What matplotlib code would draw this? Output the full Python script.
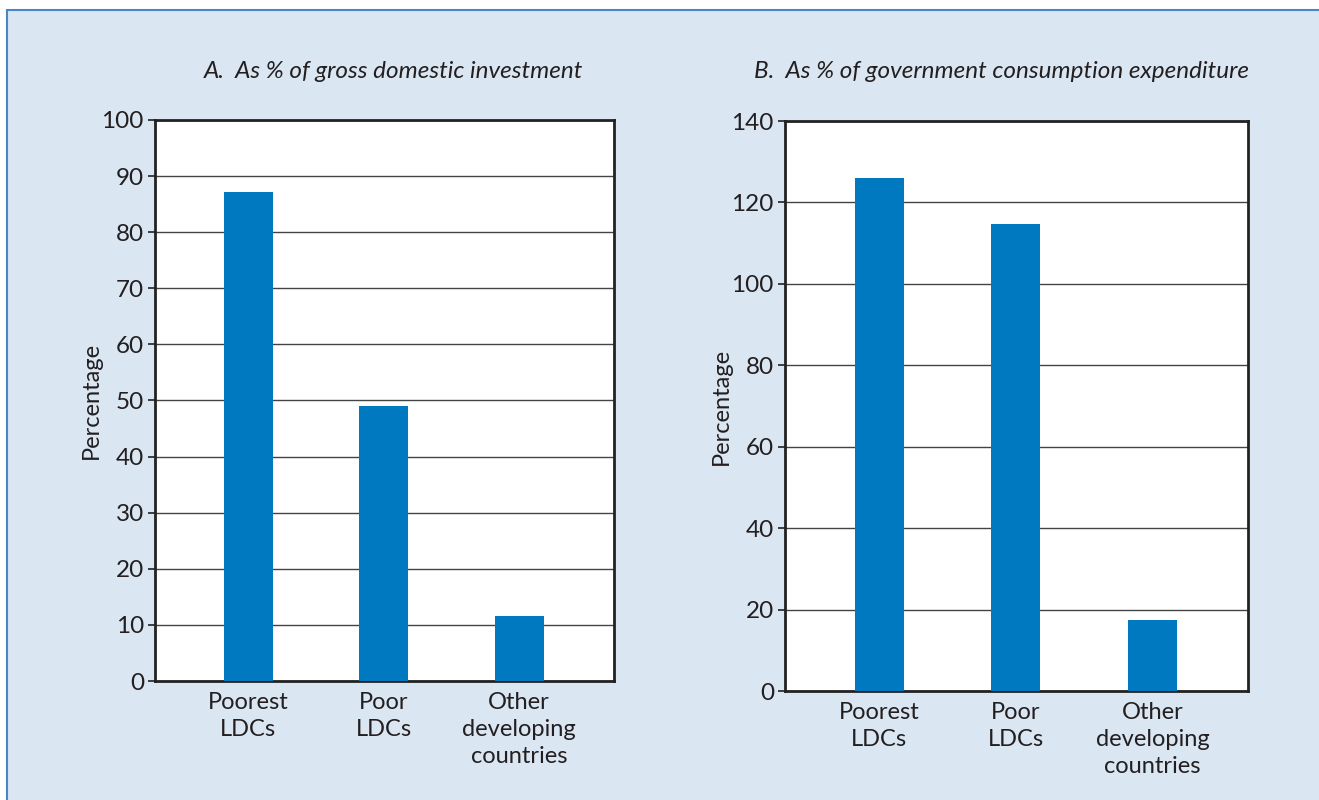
import matplotlib
matplotlib.use("Agg")
import matplotlib.pyplot as plt
from matplotlib.patches import Rectangle

categories = ["Poorest\nLDCs", "Poor\nLDCs", "Other\ndeveloping\ncountries"]
values_a = [87.2, 49.0, 11.6]
values_b = [126.0, 114.7, 17.4]
title_a = "A.  As % of gross domestic investment"
title_b = "B.  As % of government consumption expenditure"
yticks_a = [0, 10, 20, 30, 40, 50, 60, 70, 80, 90, 100]
yticks_b = [0, 20, 40, 60, 80, 100, 120, 140]

plt.rcParams['font.family'] = ['Lato', 'DejaVu Sans']
TXT = '#231f20'
BAR = '#0079c1'
BG = '#dae6f2'

fig = plt.figure(figsize=(13.19, 8.0), dpi=100)
fig.patch.set_facecolor('white')
bgrect = Rectangle((7/1319, -0.05), 1.1, 1.05 - 10/800,
                   transform=fig.transFigure, facecolor=BG,
                   edgecolor='#4a86c5', linewidth=1.5, zorder=-10)
fig.add_artist(bgrect)

def panel(rect, vals, yt, title, tx, label_pad):
    ax = fig.add_axes(rect)
    ax.set_facecolor('white')
    x = list(range(len(vals)))
    ax.bar(x, vals, width=0.36, color=BAR, zorder=3)
    ax.set_xlim(-0.69, 2.70)
    ax.set_ylim(yt[0], yt[-1])
    ax.set_yticks(yt)
    ax.set_xticks(x)
    ax.set_xticklabels(categories, fontsize=17, color=TXT, linespacing=1.35)
    ax.tick_params(axis='x', length=0, pad=8)
    ax.tick_params(axis='y', length=5, width=1.2, color=TXT, labelsize=17.5, labelcolor=TXT, pad=3)
    ax.yaxis.grid(True, color='#444444', linewidth=1.0, zorder=1)
    ax.set_axisbelow(True)
    for s in ax.spines.values():
        s.set_linewidth(2.0)
        s.set_color('#222222')
    ax.set_ylabel('Percentage', fontsize=17, color=TXT, labelpad=label_pad)
    fig.text(tx, 1 - 72/800, title, ha='center', va='center', fontsize=17.5,
             style='italic', color=TXT)
    return ax

panel([155/1319, 119/800, 459/1319, 561/800], values_a, yticks_a, title_a, 393/1319, 0)
panel([785/1319, 109/800, 463/1319, 570/800], values_b, yticks_b, title_b, 1001/1319, 0)

fig.savefig('out.png', dpi=100, facecolor=fig.get_facecolor())
